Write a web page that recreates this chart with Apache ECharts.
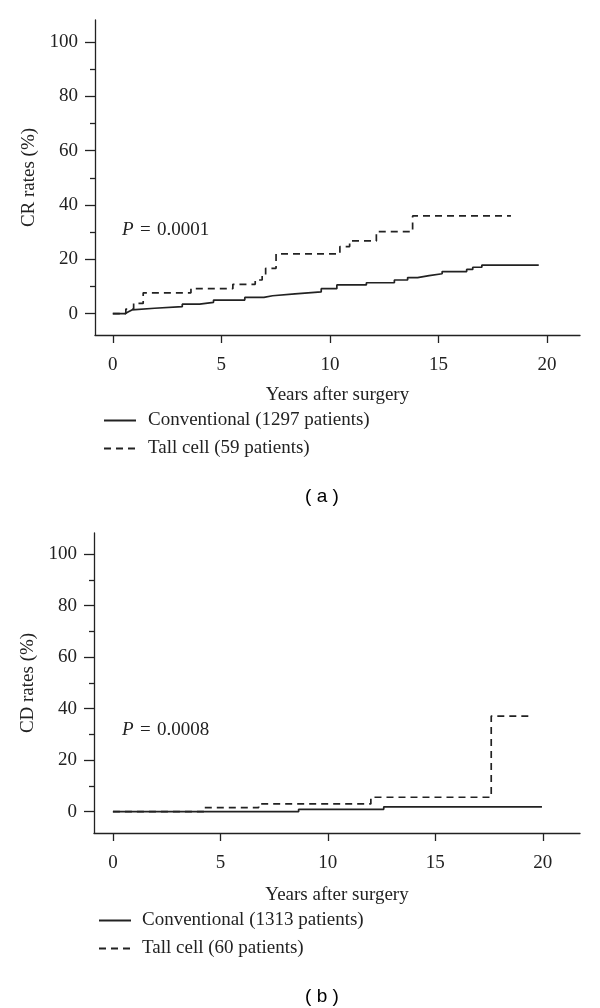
<!DOCTYPE html>
<html>
<head>
<meta charset="utf-8">
<script src="https://cdn.jsdelivr.net/npm/echarts@6/dist/echarts.min.js"></script>
<style>
html,body{margin:0;padding:0;background:#fff;}
#chart{width:600px;height:1008px;}
</style>
</head>
<body>
<div id="chart"></div>
<script>
// ---- Data ----
const xTicks = [0, 5, 10, 15, 20];
const yTicks = [0, 20, 40, 60, 80, 100];
const yMinorTicks = [10, 30, 50, 70, 90];

// Panel (a): CR rates
const aConvName = 'Conventional (1297 patients)';
const aConvYears = [0, 0.56, 0.72, 0.88, 1.92, 3.2, 4.0, 4.64, 6.08, 6.96, 7.36, 8.39, 9.6, 10.32, 11.68, 12.97, 13.58, 14.04, 14.57, 15.17, 16.3, 16.58, 17.0, 19.62];
const aConvRates = [0, 0.7, 1.4, 2.0, 2.6, 3.5, 4.2, 5.0, 6.0, 6.6, 7.3, 8.0, 9.2, 10.6, 11.4, 12.4, 13.3, 14.0, 14.7, 15.5, 16.3, 17.1, 17.9, 17.9];
const aTallName = 'Tall cell (59 patients)';
const aTallYears = [0, 0.6, 0.96, 1.4, 3.6, 5.53, 6.56, 6.88, 7.04, 7.52, 10.46, 10.91, 12.14, 13.81, 18.34];
const aTallRates = [0, 1.7, 3.8, 7.7, 9.2, 10.8, 12.4, 13.9, 16.7, 22.0, 24.7, 26.8, 30.2, 36.0, 36.0];

// Panel (b): CD rates
const bConvName = 'Conventional (1313 patients)';
const bConvYears = [0, 8.64, 12.6, 19.96];
const bConvRates = [0, 0.9, 1.9, 1.9];
const bTallName = 'Tall cell (60 patients)';
const bTallYears = [0, 4.25, 6.78, 12.0, 17.6, 19.37];
const bTallRates = [0, 1.6, 3.0, 5.6, 37.1, 37.1];

const pTexts = ['0.0001', '0.0008'];
const panelLabels = ['( a )', '( b )'];
const yNames = ['CR rates (%)', 'CD rates (%)'];
const xName = 'Years after surgery';

// ---- Styling ----
const INK = '#222';
const SERIF = '"Liberation Serif", "Times New Roman", serif';
const SANS = '"Liberation Sans", Arial, sans-serif';
const FS = 19;

const zip = (xs, ys) => xs.map((x, i) => [x, ys[i]]);

const panels = [
  {grid: {left: 95, top: 20, width: 485, height: 315}, xMin: -0.82, xMax: 21.52, yMin: -7.84, yMax: 108.1, xNameGap: 60},
  {grid: {left: 94, top: 533, width: 486, height: 300}, xMin: -0.88, xMax: 21.73, yMin: -8.27, yMax: 108.15, xNameGap: 62}
];

const grids = [], xAxes = [], yAxes = [];
panels.forEach((p, i) => {
  grids.push(Object.assign({containLabel: false}, p.grid));
  xAxes.push({
    type: 'value', gridIndex: i, min: p.xMin, max: p.xMax,
    axisLine: {show: true, onZero: false, lineStyle: {color: INK, width: 1.3}},
    axisTick: {show: true, customValues: xTicks, length: 8, lineStyle: {color: INK, width: 1.3}},
    axisLabel: {customValues: xTicks, margin: 21, fontFamily: SERIF, fontSize: FS, color: INK},
    splitLine: {show: false},
    name: xName, nameLocation: 'middle', nameGap: p.xNameGap,
    nameTextStyle: {fontFamily: SERIF, fontSize: FS, color: INK, verticalAlign: 'middle'}
  });
  yAxes.push({
    type: 'value', gridIndex: i, min: p.yMin, max: p.yMax, position: 'left',
    axisLine: {show: true, onZero: false, lineStyle: {color: INK, width: 1.3}},
    axisTick: {show: true, customValues: yTicks, length: 10, lineStyle: {color: INK, width: 1.3}},
    axisLabel: {customValues: yTicks, margin: 17, fontFamily: SERIF, fontSize: FS, color: INK},
    splitLine: {show: false},
    name: yNames[i], nameLocation: 'middle', nameGap: 55, nameRotate: 90,
    nameTextStyle: {fontFamily: SERIF, fontSize: FS, color: INK, verticalAlign: 'middle'}
  });
  // minor ticks
  yAxes.push({
    type: 'value', gridIndex: i, min: p.yMin, max: p.yMax, position: 'left', offset: 0,
    axisLine: {show: false, onZero: false},
    axisTick: {show: true, customValues: yMinorTicks, length: 5, lineStyle: {color: INK, width: 1.3}},
    axisLabel: {show: false},
    splitLine: {show: false}
  });
});

function kmSeries(name, xs, ys, gi, dashed) {
  return {
    name: name, type: 'line', step: 'end',
    xAxisIndex: gi, yAxisIndex: gi * 2,
    data: zip(xs, ys),
    showSymbol: false, symbol: 'none',
    color: INK,
    lineStyle: {color: INK, width: 1.7, type: dashed ? [7, 5] : 'solid'},
    emphasis: {disabled: true},
    silent: true
  };
}

const series = [
  kmSeries(aConvName, aConvYears, aConvRates, 0, false),
  kmSeries(aTallName, aTallYears, aTallRates, 0, true),
  kmSeries(bConvName, bConvYears, bConvRates, 1, false),
  kmSeries(bTallName, bTallYears, bTallRates, 1, true)
];

const legendBase = {
  orient: 'vertical', itemWidth: 32, itemHeight: 14, itemGap: 9, padding: 0,
  selectedMode: false, inactiveColor: INK,
  itemStyle: {opacity: 0}
};
const legends = [
  Object.assign({}, legendBase, {data: [aConvName, aTallName], left: 103, top: 411,
    textStyle: {fontFamily: SERIF, fontSize: FS, color: INK, padding: [0, 0, 0, 7]}}),
  Object.assign({}, legendBase, {data: [bConvName, bTallName], left: 98, top: 911,
    textStyle: {fontFamily: SERIF, fontSize: FS, color: INK, padding: [0, 0, 0, 6]}})
];

function pText(x, y, val) {
  return {type: 'text', x: x, y: y, style: {text: '{i|P}\u2004=\u2004' + val, verticalAlign: 'middle',
    font: FS + 'px ' + SERIF, fill: INK, rich: {i: {fontStyle: 'italic', fontFamily: SERIF, fontSize: FS, fill: INK}}}};
}

const graphic = [
  pText(122, 230, pTexts[0]),
  pText(122, 730, pTexts[1]),
  {type: 'text', x: 322, y: 497, style: {text: panelLabels[0], align: 'center', verticalAlign: 'middle',
    font: '19px ' + SANS, fill: '#000'}},
  {type: 'text', x: 322, y: 997, style: {text: panelLabels[1], align: 'center', verticalAlign: 'middle',
    font: '19px ' + SANS, fill: '#000'}}
];

const chart = echarts.init(document.getElementById('chart'), null, {renderer: 'canvas'});
chart.setOption({
  animation: false,
  backgroundColor: '#fff',
  grid: grids,
  xAxis: xAxes,
  yAxis: yAxes,
  legend: legends,
  series: series,
  graphic: graphic
});
</script>
</body>
</html>
